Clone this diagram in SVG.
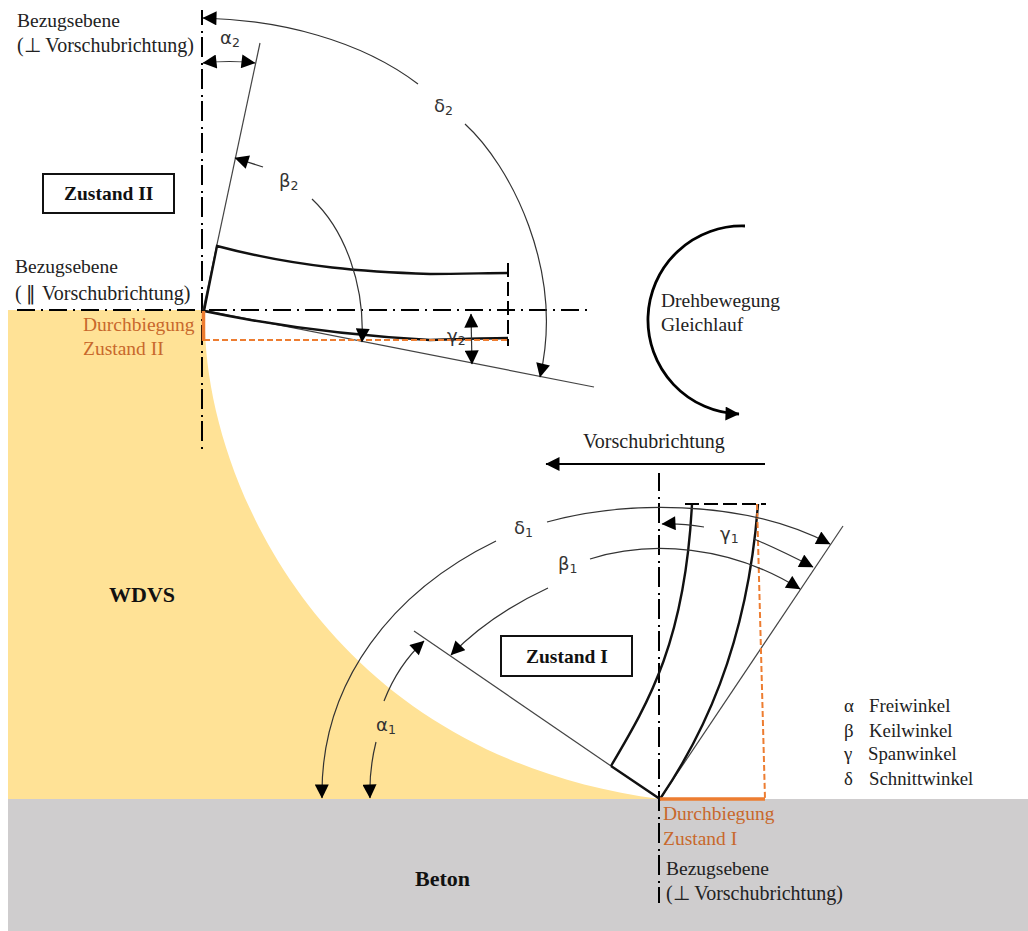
<svg xmlns="http://www.w3.org/2000/svg" width="1028" height="931" viewBox="0 0 1028 931">
<style>
text{font-family:"Liberation Serif","Times New Roman",serif;font-size:19.5px;fill:#222}
.v{font-size:20px}
.l{font-size:18.8px}
.b{font-weight:bold;fill:#111}
.z{font-size:19.5px}
.t{font-size:22px}
.o{fill:#c8682c}
.g{font-family:"DejaVu Sans","Noto Sans",sans-serif;font-size:18px;fill:#333}
.s{font-size:12.500px}
.p{font-family:"DejaVu Sans",sans-serif;font-size:19px;font-weight:normal}
.dd{fill:none;stroke:#000;stroke-width:2;stroke-dasharray:20 6 2 4}
.dh{fill:none;stroke:#000;stroke-width:2;stroke-dasharray:18 6 2 6}
.thin{fill:none;stroke:#444;stroke-width:1.200}
.arc{fill:none;stroke:#333;stroke-width:1.200}
.thick{fill:none;stroke:#111;stroke-width:2.400}
.or{fill:none;stroke:#ed7d31;stroke-width:3.500}
.ord{fill:none;stroke:#ed7d31;stroke-width:2;stroke-dasharray:6 3}
.box{fill:#fff;stroke:#111;stroke-width:2}
.dk{fill:none;stroke:#000;stroke-width:2;stroke-dasharray:14 5}
</style>
<defs>
<marker id="a" viewBox="0 0 14 14" refX="13.5" refY="7" markerWidth="15" markerHeight="14" markerUnits="userSpaceOnUse" orient="auto-start-reverse"><path d="M0 0L14 7L0 14Z" fill="#000"/></marker>
</defs>
<rect width="1028" height="931" fill="#fff"/>
<g id="beton"><path d="M8 799H1028V931H8Z" fill="#cfcdce"/><text x="415" y="886" class="b t">Beton</text></g>
<g id="wdvs"><path d="M8 310H205C200 470 320 755 660 799H8Z" fill="#ffe296"/><text x="109" y="602" class="b t">WDVS</text></g>
<g id="connectors">
<path class="dd" style="stroke-dashoffset:5" d="M202 10V450"/>
<path class="dh" d="M17 310H588"/>
<path class="dd" style="stroke-dashoffset:2" d="M659 473V903"/>
<path class="thin" d="M203 310L260 43"/>
<path class="thin" d="M203 310L594 387"/>
<path class="thin" d="M660 799L843 526"/>
<path class="thin" d="M414 631L611 766"/>
<path class="thick" d="M204 311L217 246C300 268 370 272 430 274C460 274 490 273 508 273"/>
<path class="thick" d="M204 311C270 325 340 335 430 340C460 339 490 338 508 338"/>
<path class="thick" d="M611 766L660 799C700 740 747 650 758 504"/>
<path class="thick" d="M611 766C650 700 685 640 692 504"/>
<path class="dk" d="M508 263V346"/>
<path class="dk" d="M685 504H766"/>
<path class="or" d="M203.500 311V341"/>
<path class="or" d="M660 799H765"/>
<path class="ord" d="M204 340H508"/>
<path class="ord" d="M757 504L765 799"/>
<path class="arc" d="M465 124C510 165 565 270 540 377" marker-end="url(#a)"/>
<path class="arc" d="M418 84C360 40 280 20 203 18" marker-end="url(#a)"/>
<path class="arc" d="M203 63Q230 60 255 63" marker-start="url(#a)" marker-end="url(#a)"/>
<path class="arc" d="M263 167L235 158" marker-end="url(#a)"/>
<path class="arc" d="M312 199C345 230 365 285 362 342" marker-end="url(#a)"/>
<path class="arc" d="M471 314L472 364" marker-start="url(#a)" marker-end="url(#a)"/>
<path class="arc" d="M547 522C620 502 740 497 830 544" marker-end="url(#a)"/>
<path class="arc" d="M590 559C650 540 730 545 800 589" marker-end="url(#a)"/>
<path class="arc" d="M704 527Q680 523 662 524" marker-end="url(#a)"/>
<path class="arc" d="M754 539Q780 550 813 567" marker-end="url(#a)"/>
<path class="arc" d="M496 541C395 590 320 680 322 798" marker-end="url(#a)"/>
<path class="arc" d="M548 588Q490 615 451 655" marker-end="url(#a)"/>
<path class="arc" d="M384 701Q398 665 424 641" marker-end="url(#a)"/>
<path class="arc" d="M376 742Q369 770 370 798" marker-end="url(#a)"/>
<path fill="none" stroke="#000" stroke-width="2" d="M765 464H546" marker-end="url(#a)"/>
<path fill="none" stroke="#000" stroke-width="2.800" d="M745 226A94 94 0 0 0 739 414" marker-end="url(#a)"/>
</g>
<g id="zustand2"><rect class="box" x="43" y="174" width="131" height="39"/><text x="64" y="200" class="b z">Zustand II</text></g>
<g id="zustand1"><rect class="box" x="501" y="636" width="131" height="40"/><text x="526" y="663" class="b z">Zustand I</text></g>
<g id="labels">
<text x="17" y="27">Bezugsebene</text>
<text x="17" y="52" class="v">(⊥ Vorschubrichtung)</text>
<text x="15" y="273">Bezugsebene</text>
<text x="15" y="300" class="v">(<tspan x="26" class="p">‖</tspan><tspan x="42">Vorschubrichtung)</tspan></text>
<text x="83" y="331" class="o">Durchbiegung</text>
<text x="83" y="355" class="o">Zustand II</text>
<text x="661" y="307">Drehbewegung</text>
<text x="661" y="331">Gleichlauf</text>
<text x="583" y="448" class="v">Vorschubrichtung</text>
<text x="663" y="820" class="o">Durchbiegung</text>
<text x="663" y="845" class="o">Zustand I</text>
<text x="666" y="875">Bezugsebene</text>
<text x="666" y="900" class="v">(⊥ Vorschubrichtung)</text>
<text x="220" y="44" class="g">α<tspan class="s" dy="3">2</tspan></text>
<text x="279" y="187" class="g">β<tspan class="s" dy="3">2</tspan></text>
<text x="434" y="112" class="g">δ<tspan class="s" dy="3">2</tspan></text>
<text x="447" y="342" class="g">γ<tspan class="s" dy="3">2</tspan></text>
<text x="720" y="540" class="g">γ<tspan class="s" dy="3">1</tspan></text>
<text x="558" y="570" class="g">β<tspan class="s" dy="3">1</tspan></text>
<text x="514" y="534" class="g">δ<tspan class="s" dy="3">1</tspan></text>
<text x="376" y="731" class="g">α<tspan class="s" dy="3">1</tspan></text>
<text x="844" y="712" class="l">α</text><text x="869" y="712" class="l">Freiwinkel</text>
<text x="844" y="737" class="l">β</text><text x="869" y="737" class="l">Keilwinkel</text>
<text x="844" y="760" class="l">γ</text><text x="868" y="760" class="l">Spanwinkel</text>
<text x="844" y="785" class="l">δ</text><text x="869" y="785" class="l">Schnittwinkel</text>
</g>
</svg>
